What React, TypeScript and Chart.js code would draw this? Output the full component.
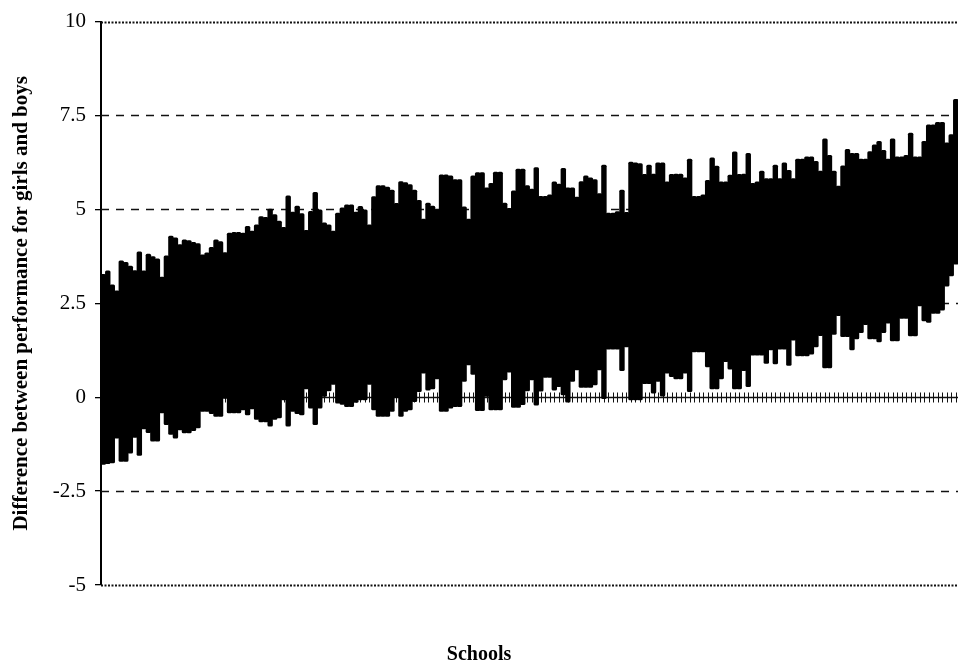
import React, { useEffect, useRef } from "react";
import { Chart, registerables } from "chart.js";

Chart.register(...registerables);

// Lower and upper bounds of each school's interval (schools sorted by estimate)
const schoolLows = [
  -1.80, -1.78, -1.76, -1.1, -1.72, -1.72, -1.5, -1.08, -1.56, -0.85,
  -0.95, -1.18, -1.18, -0.43, -0.74, -1.0, -1.1, -0.88, -0.96, -0.96,
  -0.9, -0.83, -0.39, -0.39, -0.45, -0.52, -0.52, -0.04, -0.43, -0.43,
  -0.43, -0.35, -0.48, -0.32, -0.6, -0.67, -0.67, -0.78, -0.6, -0.56,
  -0.08, -0.78, -0.39, -0.45, -0.48, 0.21, -0.3, -0.74, -0.3, 0.01,
  0.16, 0.33, -0.17, -0.2, -0.26, -0.26, -0.15, -0.08, -0.08, 0.33,
  -0.35, -0.52, -0.52, -0.52, -0.39, -0.02, -0.52, -0.39, -0.35, -0.13,
  0.14, 0.63, 0.18, 0.21, 0.48, -0.39, -0.39, -0.3, -0.26, -0.26,
  0.41, 0.85, 0.6, -0.37, -0.37, 0.01, -0.35, -0.35, -0.35, 0.45,
  0.66, -0.28, -0.28, -0.21, 0.16, 0.45, -0.22, 0.15, 0.52, 0.52,
  0.18, 0.27, 0.05, -0.14, 0.41, 0.72, 0.25, 0.25, 0.25, 0.32,
  0.72, -0.05, 1.27, 1.27, 1.27, 0.7, 1.33, -0.08, -0.08, -0.08,
  0.35, 0.35, 0.1, 0.41, 0.0, 0.63, 0.54, 0.48, 0.48, 0.63,
  0.14, 1.2, 1.2, 1.2, 0.8, 0.21, 0.21, 0.48, 0.94, 0.74,
  0.21, 0.21, 0.7, 0.27, 1.11, 1.11, 1.11, 0.89, 1.25, 0.88,
  1.27, 1.27, 0.84, 1.51, 1.09, 1.09, 1.09, 1.14, 1.33, 1.63,
  0.77, 0.77, 1.66, 2.16, 1.6, 1.6, 1.25, 1.54, 1.71, 1.92,
  1.54, 1.54, 1.46, 1.71, 1.96, 1.49, 1.49, 2.09, 2.09, 1.62,
  1.62, 2.42, 2.02, 1.98, 2.22, 2.22, 2.31, 2.95, 3.22, 3.53,
];

const schoolHighs = [
  3.28, 3.37, 3.0, 2.84, 3.64, 3.6, 3.5, 3.38, 3.88, 3.37,
  3.82, 3.75, 3.69, 3.21, 3.77, 4.3, 4.25, 4.07, 4.2, 4.18,
  4.13, 4.1, 3.8, 3.85, 4.0, 4.2, 4.15, 3.86, 4.38, 4.4,
  4.4, 4.38, 4.56, 4.43, 4.6, 4.82, 4.8, 5.02, 4.87, 4.7,
  4.53, 5.37, 4.94, 5.1, 4.9, 4.45, 4.96, 5.46, 5.0, 4.65,
  4.6, 4.43, 4.91, 5.05, 5.13, 5.13, 4.94, 5.09, 5.0, 4.6,
  5.35, 5.64, 5.64, 5.6, 5.52, 5.17, 5.75, 5.72, 5.67, 5.52,
  5.25, 4.75, 5.18, 5.1, 5.0, 5.93, 5.93, 5.9, 5.8, 5.8,
  5.08, 4.75, 5.9, 5.99, 5.99, 5.58, 5.7, 6.0, 6.0, 5.18,
  5.04, 5.5, 6.08, 6.08, 5.64, 5.55, 6.12, 5.36, 5.36, 5.4,
  5.74, 5.68, 6.1, 5.58, 5.58, 5.34, 5.75, 5.9, 5.85, 5.8,
  5.43, 6.19, 4.91, 4.91, 4.95, 5.52, 4.93, 6.27, 6.25, 6.23,
  5.94, 6.19, 5.95, 6.25, 6.25, 5.74, 5.94, 5.95, 5.95, 5.85,
  6.35, 5.36, 5.36, 5.4, 5.78, 6.38, 6.16, 5.74, 5.74, 5.92,
  6.54, 5.94, 5.95, 6.5, 5.7, 5.74, 6.03, 5.83, 5.83, 6.19,
  5.83, 6.25, 6.05, 5.83, 6.35, 6.35, 6.41, 6.41, 6.29, 6.03,
  6.89, 6.45, 6.03, 5.63, 6.17, 6.61, 6.5, 6.5, 6.35, 6.35,
  6.55, 6.73, 6.82, 6.58, 6.35, 6.89, 6.41, 6.41, 6.45, 7.04,
  6.41, 6.41, 6.82, 7.26, 7.26, 7.33, 7.33, 6.78, 7.0, 7.94,
];

const schools = schoolHighs.map((_, i) => `School ${i + 1}`);

const yTickValues = [-5, -2.5, 0, 2.5, 5, 7.5, 10];
const dashedLevels = [7.5, 5, 2.5, -2.5];
const dottedLevels = [10, -5];
const zeroLevel = 0;

const FONT = "'Liberation Serif', 'Times New Roman', serif";

const referenceLines = {
  id: "referenceLines",
  beforeDatasetsDraw(chart: any) {
    const { ctx, chartArea, scales } = chart;
    const ys = scales.y;
    const xs = scales.x;
    ctx.save();
    ctx.strokeStyle = "#111";

    ctx.lineWidth = 1.4;
    ctx.setLineDash([8, 7]);
    dashedLevels.forEach((v) => {
      const py = Math.round(ys.getPixelForValue(v)) + 0.5;
      ctx.beginPath();
      ctx.moveTo(chartArea.left, py);
      ctx.lineTo(chartArea.right, py);
      ctx.stroke();
    });

    ctx.lineWidth = 1.8;
    ctx.setLineDash([2, 1.5]);
    dottedLevels.forEach((v) => {
      const py = Math.round(ys.getPixelForValue(v)) + 0.5;
      ctx.beginPath();
      ctx.moveTo(chartArea.left, py);
      ctx.lineTo(chartArea.right, py);
      ctx.stroke();
    });

    // zero axis with a tick mark for every school
    ctx.setLineDash([]);
    ctx.lineWidth = 1.5;
    const y0 = Math.round(ys.getPixelForValue(zeroLevel)) + 0.5;
    ctx.beginPath();
    ctx.moveTo(chartArea.left, y0);
    ctx.lineTo(chartArea.right, y0);
    ctx.stroke();
    ctx.lineWidth = 1;
    schools.forEach((_, i) => {
      const px = Math.round(xs.getPixelForValue(i)) + 0.5;
      ctx.beginPath();
      ctx.moveTo(px, y0 - 5);
      ctx.lineTo(px, y0 + 5);
      ctx.stroke();
    });
    ctx.restore();
  },
};

export default function App() {
  const canvasRef = useRef<HTMLCanvasElement | null>(null);

  useEffect(() => {
    if (!canvasRef.current) return;
    const chart = new Chart(canvasRef.current, {
      type: "bar",
      data: {
        labels: schools,
        datasets: [
          {
            data: schoolLows.map((lo, i) => [lo, schoolHighs[i]]) as any,
            backgroundColor: "#000",
            borderWidth: 0,
            borderRadius: 1.5,
            borderSkipped: false,
            barPercentage: 1.2,
            categoryPercentage: 1,
          },
        ],
      },
      options: {
        animation: false,
        responsive: false,
        devicePixelRatio: 1,
        layout: { padding: { top: 17, left: 0, right: 0, bottom: 0 } },
        plugins: {
          legend: { display: false },
          tooltip: { enabled: false },
          title: {
            display: true,
            position: "bottom",
            text: "Schools",
            color: "#000",
            font: { family: FONT, size: 20, weight: "bold" },
            padding: { top: 58, bottom: 2 },
          },
        },
        scales: {
          x: {
            type: "category",
            display: false,
            offset: true,
          },
          y: {
            type: "linear",
            min: -5,
            max: 10,
            afterBuildTicks: (scale: any) => {
              scale.ticks = yTickValues.map((v) => ({ value: v }));
            },
            afterFit: (scale: any) => {
              scale.width = 101;
            },
            ticks: {
              color: "#000",
              padding: 9,
              font: { family: FONT, size: 21 },
              callback: (v: any) => String(v),
            },
            grid: {
              drawOnChartArea: false,
              drawTicks: true,
              tickLength: 6,
              color: "#000",
              lineWidth: 1.3,
            },
            border: { display: true, color: "#000", width: 2 },
            title: {
              display: true,
              text: "Difference between performance for girls and boys",
              color: "#000",
              font: { family: FONT, size: 21, weight: "bold" },
              padding: { top: 9, bottom: 0 },
            },
          },
        },
      },
      plugins: [referenceLines],
    });
    return () => chart.destroy();
  }, []);

  return (
    <div style={{ position: "fixed", left: 0, top: 0, width: 958, height: 669, background: "#fff" }}>
      <canvas ref={canvasRef} width={958} height={669} style={{ display: "block" }} />
    </div>
  );
}
